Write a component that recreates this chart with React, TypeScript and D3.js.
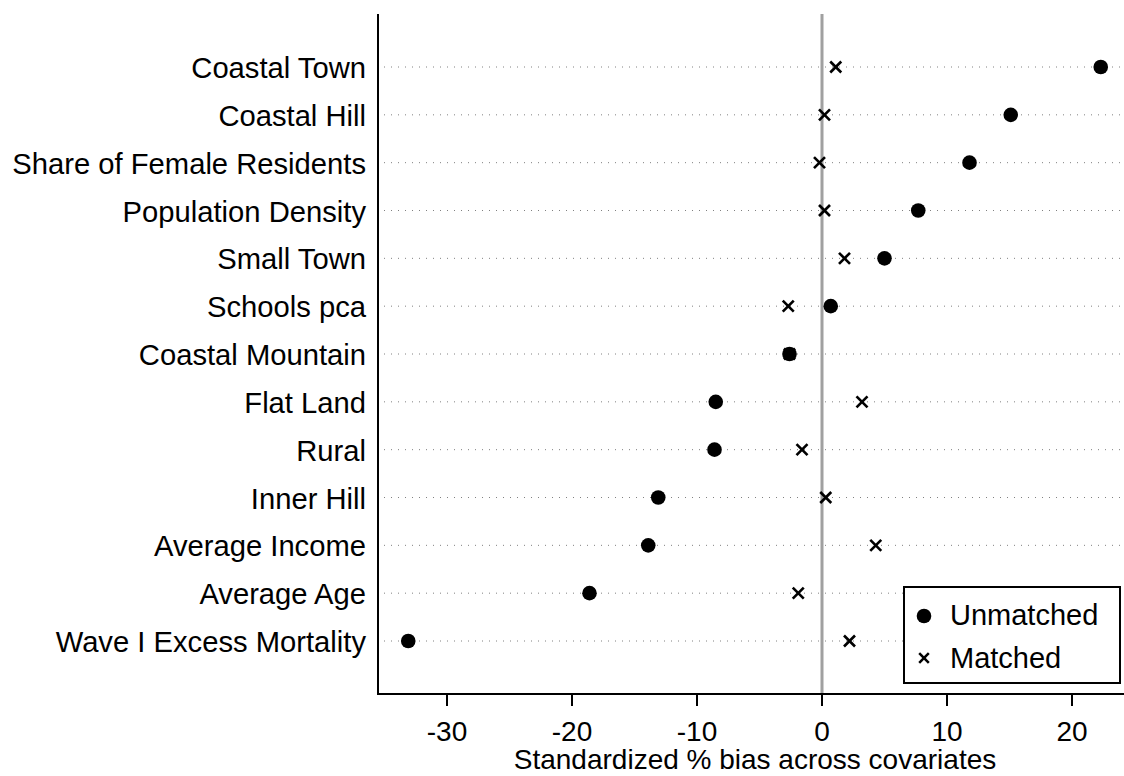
import React from "react";
import * as d3 from "d3";

const categories = [
  "Coastal Town",
  "Coastal Hill",
  "Share of Female Residents",
  "Population Density",
  "Small Town",
  "Schools pca",
  "Coastal Mountain",
  "Flat Land",
  "Rural",
  "Inner Hill",
  "Average Income",
  "Average Age",
  "Wave I Excess Mortality",
];
const unmatched = [22.3, 15.1, 11.8, 7.7, 5.0, 0.7, -2.6, -8.5, -8.6, -13.1, -13.9, -18.6, -33.1];
const matched = [1.1, 0.2, -0.2, 0.2, 1.8, -2.7, -2.6, 3.2, -1.6, 0.3, 4.3, -1.9, 2.2];
const xTicks = [-30, -20, -10, 0, 10, 20];
const legendLabels = ["Unmatched", "Matched"];
const xTitle = "Standardized % bias across covariates";

const W = 1124;
const H = 776;
const FONT = "'Liberation Sans', Arial, sans-serif";

function Cross({ cx, cy, s, sw }: { cx: number; cy: number; s: number; sw: number }) {
  return (
    <g stroke="#000" strokeWidth={sw}>
      <line x1={cx - s} y1={cy - s} x2={cx + s} y2={cy + s} />
      <line x1={cx - s} y1={cy + s} x2={cx + s} y2={cy - s} />
    </g>
  );
}

export default function App() {
  const left = 378;
  const right = 1124;
  const top = 14;
  const bottom = 694;
  const x = d3.scaleLinear().domain([-35.52, 24.16]).range([left, right]);
  const y = d3.scalePoint<string>().domain(categories).range([67, 641]);

  return (
    <div style={{ position: "absolute", left: 0, top: 0 }}>
      <svg width={W} height={H} style={{ display: "block", background: "#fff" }} fontFamily={FONT}>
        <rect width={W} height={H} fill="#fff" />
        {categories.map((c) => (
          <line
            key={"g" + c}
            x1={left + 6}
            x2={right}
            y1={y(c)}
            y2={y(c)}
            stroke="#808080"
            strokeWidth={1}
            strokeDasharray="1 6"
          />
        ))}
        <line x1={x(0)} x2={x(0)} y1={top} y2={bottom} stroke="#a0a0a0" strokeWidth={3} />
        <line x1={left} x2={left} y1={top} y2={bottom + 1} stroke="#000" strokeWidth={2} />
        <line x1={left - 1} x2={right} y1={bottom} y2={bottom} stroke="#000" strokeWidth={2} />
        {xTicks.map((t) => (
          <g key={"t" + t}>
            <line x1={x(t)} x2={x(t)} y1={bottom} y2={bottom + 12} stroke="#000" strokeWidth={2} />
            <text x={x(t)} y={741} textAnchor="middle" fontSize={28} fill="#000">
              {t}
            </text>
          </g>
        ))}
        <text x={755} y={769} textAnchor="middle" fontSize={28} fill="#000">
          {xTitle}
        </text>
        {categories.map((c) => (
          <text key={"l" + c} x={366} y={(y(c) as number) + 11} textAnchor="end" fontSize={29.2} fill="#000">
            {c}
          </text>
        ))}
        {categories.map((c, i) => (
          <Cross key={"m" + c} cx={x(matched[i])} cy={y(c) as number} s={5.5} sw={2.6} />
        ))}
        {categories.map((c, i) => (
          <circle key={"u" + c} cx={x(unmatched[i])} cy={y(c)} r={7.3} fill="#000" />
        ))}
        <rect x={904} y={587} width={216} height={96} fill="#fff" stroke="#000" strokeWidth={2} />
        <circle cx={924} cy={616} r={7.3} fill="#000" />
        <text x={950} y={625} fontSize={29} fill="#000">{legendLabels[0]}</text>
        <Cross cx={924} cy={658} s={4.8} sw={2.5} />
        <text x={950} y={668} fontSize={29} fill="#000">{legendLabels[1]}</text>
      </svg>
    </div>
  );
}
